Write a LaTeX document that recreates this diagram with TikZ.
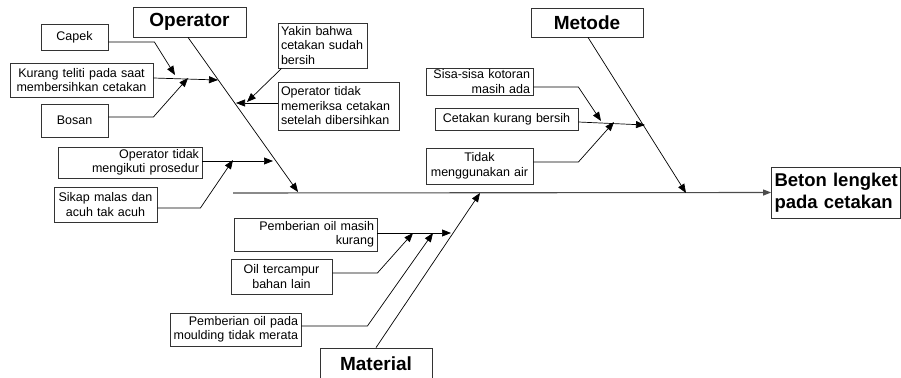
\documentclass[tikz,border=0pt]{standalone}
\usepackage{fontspec}
\setmainfont{Liberation Sans}
\usetikzlibrary{arrows.meta}
\begin{document}
\begin{tikzpicture}[x=1pt,y=-1pt,
  box/.style={draw=black!80, line width=0.8pt, inner xsep=3pt, inner ysep=0pt,
    font=\fontsize{12.5}{14.5}\selectfont},
  titlebox/.style={draw=black!80, line width=0.8pt, inner sep=0pt,
    font=\bfseries\fontsize{19}{22}\selectfont},
  conn/.style={line width=0.7pt, -{Triangle[length=9pt,width=7pt]}},
  spine/.style={line width=1.1pt, draw=black!70, -{Triangle[length=8pt,width=6pt]}}
  ]
\useasboundingbox (0,0) rectangle (901,377);

% category boxes
\node[titlebox, minimum width=113pt, minimum height=30pt] (operator) at (189.5,22) {Operator};
\node[titlebox, minimum width=112pt, minimum height=29pt] (metode) at (587,22.5) {Metode};
\node[titlebox, minimum width=112pt, minimum height=32pt] (material) at (376,364) {Material};
\node[draw=black!80, line width=0.8pt, font=\bfseries\fontsize{18.5}{21.5}\selectfont,
  text width=123pt, inner xsep=3pt, inner ysep=0pt, align=left, minimum height=51pt]
  (beton) at (836,192.5) {\mbox{Beton lengket}\\\mbox{pada cetakan}};

% operator causes
\node[box, text width=61pt, minimum height=26pt, align=center] (capek) at (74.5,37) {Capek};
\node[box, text width=137pt, minimum height=34pt, align=center] (kurang) at (81.5,80) {Kurang teliti pada saat\\membersihkan cetakan};
\node[box, text width=61pt, minimum height=33pt, align=center] (bosan) at (74.5,120.5) {Bosan};
\node[box, text width=138pt, minimum height=31pt, align=right] (ikut) at (130,162.5) {Operator tidak\\mengikuti prosedur};
\node[box, text width=97pt, minimum height=35pt, align=center] (sikap) at (105.5,204.5) {Sikap malas dan\\acuh tak acuh};
\node[box, text width=83pt, minimum height=45pt, align=left] (yakin) at (322.5,45.5) {Yakin bahwa\\cetakan sudah\\bersih};
\node[box, text width=115pt, minimum height=48pt, align=left] (periksa) at (338.5,106) {Operator tidak\\memeriksa cetakan\\setelah dibersihkan};

% metode causes
\node[box, text width=101pt, minimum height=27pt, align=right] (sisa) at (479.5,81.5) {Sisa-sisa kotoran\\masih ada};
\node[box, text width=137pt, minimum height=22pt, align=center] (kb) at (506.5,119) {Cetakan kurang bersih};
\node[box, text width=101pt, minimum height=36pt, align=center] (air) at (479.5,166) {Tidak\\menggunakan air};

% material causes
\node[box, text width=137pt, minimum height=33pt, align=right] (masih) at (305.5,234.5) {Pemberian oil masih\\kurang};
\node[box, text width=95pt, minimum height=35pt, align=center] (campur) at (281.5,276.5) {Oil tercampur\\bahan lain};
\node[box, text width=125pt, minimum height=33pt, align=right] (pada) at (235.5,329.5) {Pemberian oil pada\\moulding tidak merata};

% coordinates on spine and bones
\coordinate (spineStart) at (233,193);
\coordinate (opTip) at (298,192);
\coordinate (meTip) at (686,193);
\coordinate (maTip) at (480,193);
\coordinate (capekTip) at (175,75);
\coordinate (kurangTip) at (218,80);
\coordinate (bosanTip) at (188,78);
\coordinate (yakinTip) at (247,102);
\coordinate (periksaTip) at (236,103);
\coordinate (ikutTip) at (273,161);
\coordinate (sikapTip) at (233,160);
\coordinate (sisaTip) at (601,121);
\coordinate (kbTip) at (645,125);
\coordinate (airTip) at (614,122);
\coordinate (masihTip) at (451,233);
\coordinate (campurTip) at (413,233);
\coordinate (padaTip) at (433,233);

% spine and main bones
\draw[spine] (spineStart) -- (beton.west);
\draw[conn] ([xshift=-1.5pt]operator.south) -- (opTip);
\draw[conn] ([xshift=1pt]metode.south) -- (meTip);
\draw[conn] (material.north) -- (maTip);

% operator sub-bones
\draw[conn] ([yshift=-5pt]capek.east) -- ++(46,0) -- (capekTip);
\draw[conn] ([yshift=2pt]kurang.east) -- (kurangTip);
\draw[conn] ([yshift=3.5pt]bosan.east) -- ++(45,0) -- (bosanTip);
\draw[conn] ([xshift=4pt]yakin.south west) -- (yakinTip);
\draw[conn] ([yshift=3pt]periksa.west) -- (periksaTip);
\draw[conn] ([yshift=1.5pt]ikut.east) -- (ikutTip);
\draw[conn] ([yshift=-3.5pt]sikap.east) -- ++(43,0) -- (sikapTip);

% metode sub-bones
\draw[conn] ([yshift=-5.5pt]sisa.east) -- ++(45,0) -- (sisaTip);
\draw[conn] ([yshift=-3pt]kb.east) -- (kbTip);
\draw[conn] ([yshift=4pt]air.east) -- ++(45,0) -- (airTip);

% material sub-bones
\draw[conn] ([yshift=1.5pt]masih.east) -- (masihTip);
\draw[conn] ([yshift=3.5pt]campur.east) -- ++(45,0) -- (campurTip);
\draw[conn] ([yshift=3.5pt]pada.east) -- ++(66,0) -- (padaTip);
\end{tikzpicture}
\end{document}
